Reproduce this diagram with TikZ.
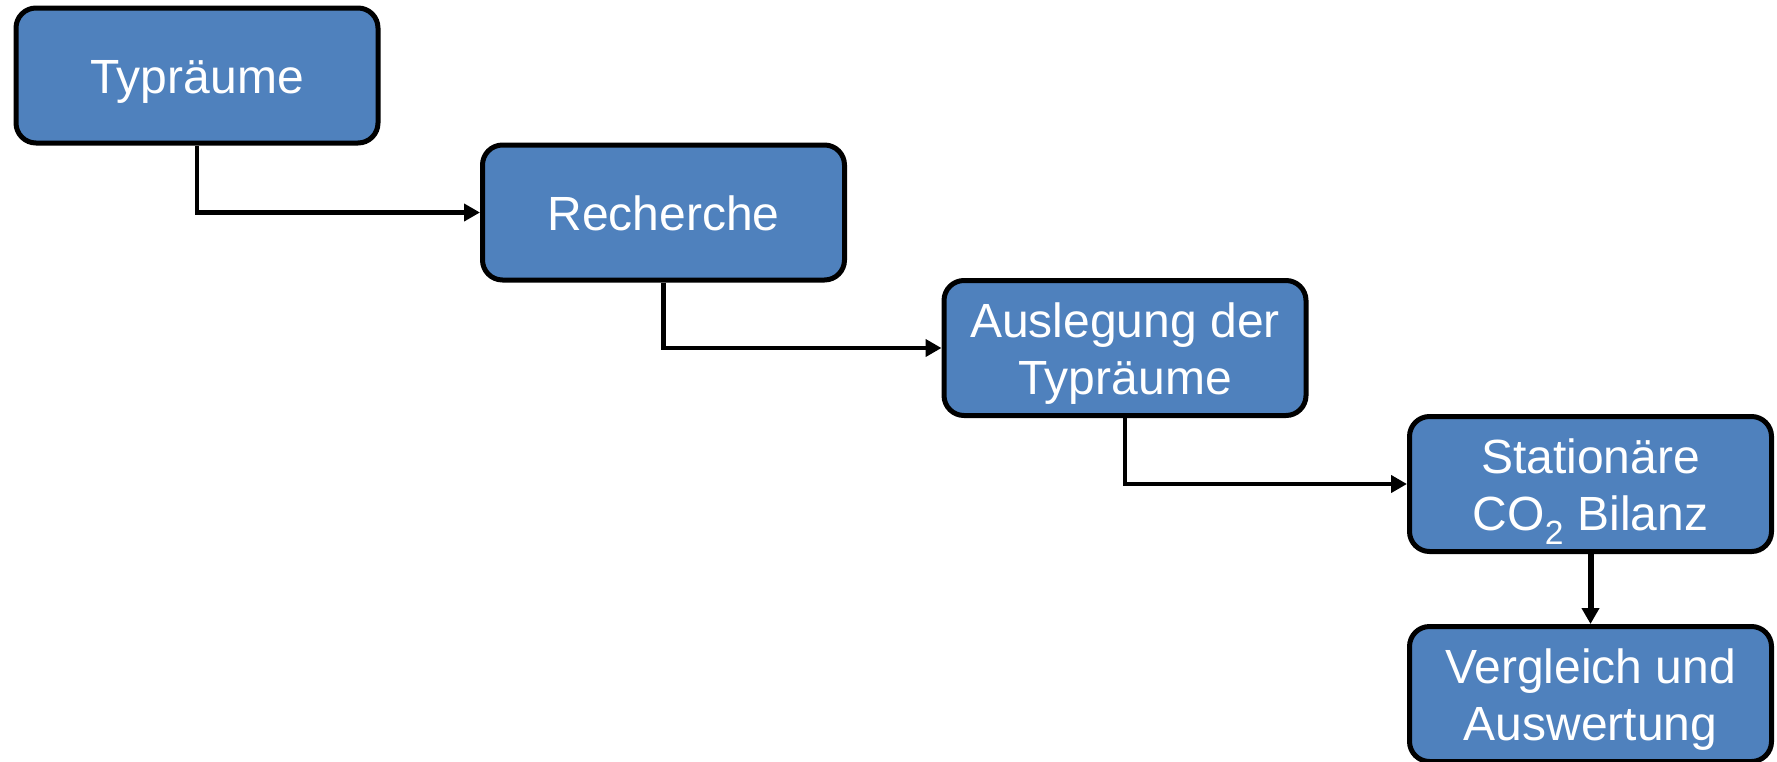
\documentclass[tikz,border=0pt]{standalone}
\usepackage{fontspec}
\setmainfont{Liberation Sans}
\usetikzlibrary{arrows.meta}
\definecolor{boxblue}{HTML}{4F81BD}
\begin{document}
\begin{tikzpicture}[x=1pt,y=-1pt,
  stepbox/.style={draw=black, line width=5pt, fill=boxblue, rounded corners=20pt,
    minimum width=362pt, minimum height=135pt, inner sep=0pt, text=white,
    align=center, font=\fontsize{48}{57}\selectfont, text depth=0pt, text height=35pt},
  twoline/.style={text height=92pt},
  conn/.style={draw=black, line width=4.5pt, -{Triangle[length=16pt,width=17pt]}}]
\useasboundingbox (0,0) rectangle (1777,761);
\node[stepbox] (a) at (197,75.5) {Typräume};
\node[stepbox] (b) at (663.5,212.5) {Recherche};
\node[stepbox, twoline] (c) at (1125,348) {Auslegung der\\Typräume};
\node[stepbox, twoline] (d) at (1590.5,484) {Stationäre\\CO\textsubscript{2} Bilanz};
\node[stepbox, twoline] (e) at (1590.5,694) {Vergleich und\\Auswertung};
\draw[conn] (a.south) |- (b.west);
\draw[conn] (b.south) |- (c.west);
\draw[conn] (c.south) |- (d.west);
\draw[conn, line width=6pt] (d.south) -- (e.north);
\end{tikzpicture}
\end{document}
